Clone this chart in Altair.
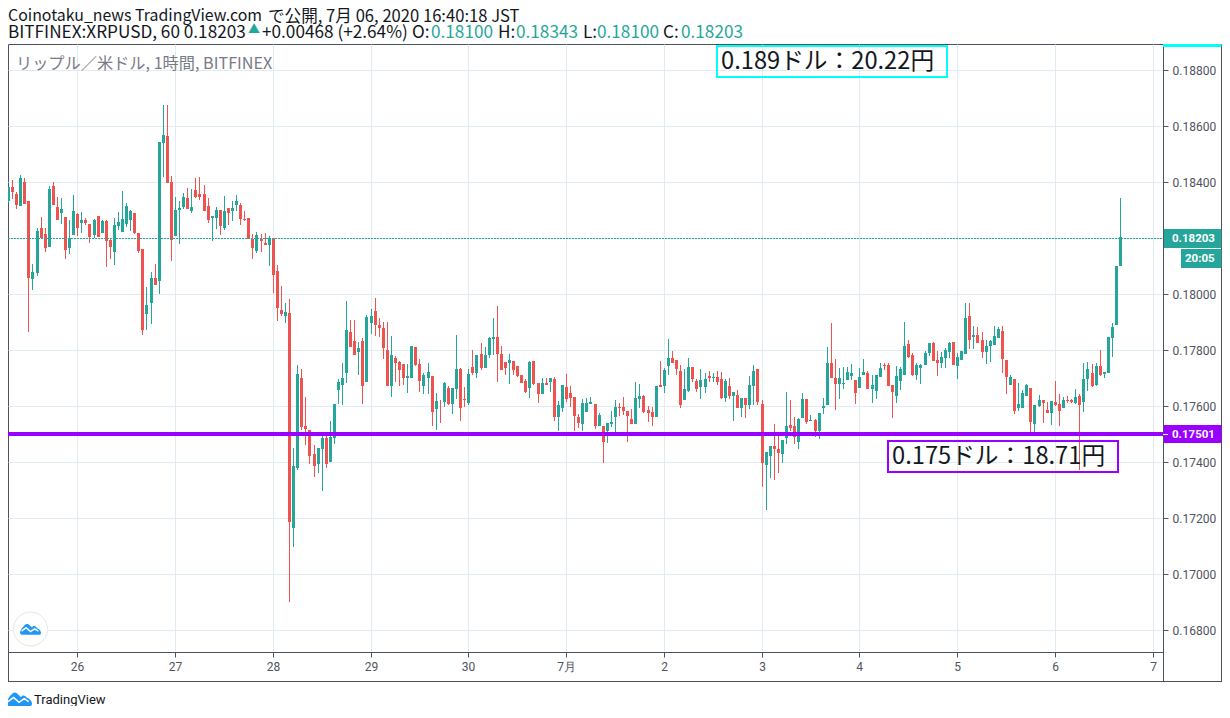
import altair as alt
import pandas as pd

# Hourly candles, Jun 25 07:00 to Jul 6 16:00 JST, prices in 1e-5 USD
opens = [
18333,18383,18358,18316,18401,18333,18055,18076,18237,18216,18169,18387,18312,18291,18276,18166,18212,18287,18255,18266,
18251,18212,18280,18219,18262,18194,18151,18244,18223,18251,18266,18291,18219,18162,17930,17969,18058,18048,18540,18565,
18401,18208,18301,18312,18344,18298,18373,18358,18358,18316,18273,18273,18301,18237,18308,18298,18319,18319,18269,18273,
18198,18155,18198,18183,18176,18201,18083,17944,17923,17933,17166,17380,17701,17530,17516,17430,17394,17448,17487,17401,
17484,17658,17676,17719,17866,17833,17794,17833,17687,17898,17940,17891,17880,17801,17673,17773,17758,17751,17701,17701,
17812,17751,17673,17701,17708,17591,17623,17616,17666,17608,17662,17733,17626,17612,17741,17719,17787,17737,17783,17841,
17848,17787,17758,17755,17762,17744,17712,17691,17666,17762,17683,17644,17683,17687,17698,17562,17594,17669,17648,17633,
17562,17537,17580,17608,17608,17530,17530,17512,17537,17562,17598,17598,17583,17555,17537,17626,17637,17587,17580,17562,
17676,17673,17744,17773,17765,17726,17623,17655,17740,17691,17669,17669,17708,17701,17705,17698,17630,17673,17637,17641,
17594,17630,17605,17673,17733,17608,17391,17423,17458,17448,17430,17487,17533,17530,17473,17558,17626,17548,17551,17512,
17594,17605,17755,17701,17680,17680,17694,17708,17694,17666,17712,17719,17662,17655,17705,17748,17748,17676,17637,17691,
17712,17823,17783,17712,17737,17748,17790,17826,17765,17755,17773,17794,17830,17744,17765,17787,17923,17848,17855,17837,
17794,17815,17819,17844,17869,17765,17676,17698,17594,17594,17637,17666,17537,17601,17623,17587,17576,17616,17608,17594,
17623,17623,17612,17637,17616,17698,17719,17676,17744,17716,17719,17844,17890,18100]
highs = [
18383,18408,18365,18426,18415,18333,18108,18237,18276,18237,18387,18401,18348,18344,18276,18266,18355,18291,18294,18273,
18251,18269,18280,18266,18266,18198,18273,18294,18369,18326,18301,18291,18219,18162,18026,18080,18108,18544,18676,18676,
18423,18348,18333,18362,18380,18376,18415,18419,18390,18344,18280,18312,18301,18351,18308,18333,18355,18326,18298,18273,
18216,18223,18216,18219,18208,18201,18105,18030,17969,17983,17451,17748,17733,17633,17516,17462,17451,17494,17494,17548,
17608,17698,17755,17976,17908,17908,17830,17844,17926,17948,17987,17916,17901,17901,17851,17780,17762,17751,17751,17816,
17812,17769,17719,17755,17708,17648,17623,17687,17673,17666,17855,17737,17669,17733,17801,17783,17826,17812,17848,17916,
17958,17816,17758,17787,17762,17744,17712,17698,17762,17762,17683,17701,17701,17701,17705,17619,17676,17716,17673,17633,
17573,17626,17630,17633,17608,17576,17530,17541,17583,17623,17612,17633,17583,17591,17687,17680,17641,17601,17598,17673,
17762,17737,17840,17798,17765,17748,17733,17773,17740,17698,17733,17719,17726,17719,17726,17723,17698,17701,17651,17658,
17630,17630,17708,17748,17733,17623,17437,17458,17537,17501,17480,17651,17623,17562,17558,17648,17626,17569,17555,17576,
17630,17812,17898,17769,17737,17740,17740,17751,17694,17737,17769,17726,17712,17712,17755,17755,17755,17676,17744,17740,
17901,17837,17790,17755,17751,17798,17826,17830,17798,17794,17808,17830,17830,17790,17798,17969,17969,17887,17883,17865,
17837,17837,17887,17883,17887,17765,17712,17698,17683,17658,17680,17666,17605,17641,17623,17616,17619,17691,17644,17633,
17637,17626,17662,17644,17755,17758,17751,17755,17801,17723,17848,17898,18101,18343]
lows = [
18326,18340,18305,18316,18323,17866,18016,18066,18198,18151,18169,18319,18266,18251,18126,18144,18212,18208,18219,18248,
18183,18201,18205,18219,18098,18126,18105,18230,18223,18241,18226,18216,18148,17855,17873,17894,18033,18001,18419,18398,
18119,18208,18180,18305,18305,18291,18344,18337,18298,18255,18191,18233,18212,18230,18248,18262,18298,18248,18262,18198,
18126,18148,18151,18176,18101,18005,17905,17923,17898,16899,17098,17373,17516,17459,17394,17348,17362,17298,17380,17401,
17466,17608,17605,17683,17812,17783,17712,17608,17687,17858,17851,17848,17769,17673,17633,17687,17673,17676,17648,17701,
17744,17651,17644,17644,17530,17516,17541,17598,17605,17573,17626,17548,17598,17605,17712,17701,17730,17737,17773,17783,
17687,17730,17712,17680,17712,17705,17683,17648,17630,17676,17612,17644,17676,17651,17548,17509,17580,17616,17598,17512,
17523,17512,17580,17608,17519,17530,17398,17469,17526,17508,17566,17569,17473,17537,17537,17594,17576,17544,17530,17562,
17669,17648,17712,17755,17712,17594,17623,17651,17687,17651,17626,17648,17687,17687,17676,17626,17616,17626,17548,17594,
17562,17558,17591,17605,17605,17309,17230,17344,17337,17359,17398,17466,17512,17466,17448,17558,17537,17548,17491,17483,
17573,17605,17701,17587,17626,17662,17694,17694,17608,17666,17712,17662,17612,17626,17705,17730,17673,17558,17612,17658,
17712,17773,17708,17694,17680,17748,17780,17762,17708,17737,17737,17773,17748,17698,17765,17787,17805,17805,17826,17773,
17751,17758,17819,17844,17719,17644,17676,17573,17583,17594,17637,17501,17508,17598,17541,17576,17533,17601,17530,17594,
17612,17612,17608,17373,17580,17655,17669,17673,17708,17701,17719,17776,17890,18100]
closes = [
18383,18365,18319,18415,18323,18058,18080,18226,18201,18166,18376,18319,18266,18305,18158,18200,18298,18237,18266,18255,
18205,18266,18205,18262,18191,18169,18248,18258,18269,18316,18298,18219,18155,17873,17962,18058,18033,18544,18569,18398,
18194,18301,18308,18348,18305,18312,18348,18348,18298,18266,18280,18301,18244,18298,18291,18308,18333,18269,18266,18198,
18166,18212,18191,18176,18201,18069,17951,17930,17934,17187,17384,17716,17526,17519,17423,17387,17451,17484,17394,17491,
17608,17687,17701,17873,17812,17783,17808,17673,17919,17923,17891,17880,17808,17673,17783,17755,17730,17701,17708,17816,
17748,17691,17712,17723,17580,17619,17621,17683,17608,17666,17733,17594,17623,17716,17719,17783,17737,17783,17844,17848,
17787,17730,17737,17766,17730,17708,17683,17651,17758,17680,17644,17683,17676,17701,17562,17605,17676,17626,17630,17566,
17541,17612,17612,17616,17530,17569,17473,17541,17544,17598,17594,17583,17566,17537,17630,17637,17580,17576,17562,17673,
17669,17730,17773,17755,17733,17605,17662,17740,17698,17662,17694,17698,17701,17705,17687,17630,17691,17637,17651,17594,
17630,17605,17676,17726,17616,17398,17437,17458,17448,17433,17480,17530,17523,17491,17555,17626,17544,17551,17512,17576,
17601,17755,17701,17680,17701,17683,17723,17719,17648,17705,17723,17662,17676,17712,17737,17744,17673,17651,17708,17733,
17815,17776,17712,17748,17748,17790,17826,17762,17755,17776,17801,17826,17748,17776,17798,17915,17837,17855,17826,17794,
17815,17833,17851,17876,17769,17705,17705,17583,17608,17648,17676,17544,17605,17623,17612,17576,17619,17605,17583,17623,
17619,17616,17633,17605,17698,17733,17673,17744,17712,17723,17848,17883,18101,18203]

first_hour = -17          # hours from Jun 26 00:00
day_labels = ["26", "27", "28", "29", "30", "7月", "2", "3", "4", "5", "6", "7"]
price_ticks = [0.168, 0.170, 0.172, 0.174, 0.176, 0.178, 0.180, 0.182, 0.184, 0.186, 0.188]
last_price = 0.18203
level_price = 0.17501

GREEN, RED = "#26a69a", "#ef5350"
PURPLE, CYAN = "#9900ff", "#00ffff"
FRAME, GRID, INK = "#4c525e", "#e1ecf2", "#131722"
JP = "Noto Sans CJK JP"

n = len(opens)
df = pd.DataFrame({
    "h": [first_hour + i for i in range(n)],
    "o": [v / 1e5 for v in opens],
    "hi": [v / 1e5 for v in highs],
    "lo": [v / 1e5 for v in lows],
    "c": [v / 1e5 for v in closes],
})
df["dir"] = ["up" if c >= o else "down" for o, c in zip(opens, closes)]

W, H = 1155, 608
xs = alt.Scale(domain=[-17, 266.55], round=True, nice=False, zero=False, padding=0)
ys = alt.Scale(domain=[0.1672143, 0.1889286], round=True, nice=False, zero=False, padding=0)
dir_color = alt.Color("dir:N", scale=alt.Scale(domain=["up", "down"], range=[GREEN, RED]), legend=None)

x_axis = alt.Axis(values=[24 * i for i in range(12)], title=None, grid=True, gridColor=GRID,
                  labelExpr="[" + ",".join(f"'{d}'" for d in day_labels) + "][datum.value/24]",
                  tickSize=5, tickColor=FRAME, domainColor=FRAME, labelColor="#50535e",
                  labelFont="Roboto", labelFontSize=12, labelPadding=4, labelFlush=False, labelOverlap=False)
y_axis = alt.Axis(values=price_ticks, format=".5f", title=None, orient="right", grid=True, gridColor=GRID,
                  tickSize=5, tickColor=FRAME, domainColor=FRAME, labelColor="#50535e",
                  labelFont="Roboto", labelFontSize=12, labelPadding=4, labelOverlap=False)

base = alt.Chart(df)
wicks = base.mark_rule(strokeWidth=1, xOffset=0.5).encode(
    x=alt.X("h:Q", scale=xs, axis=x_axis),
    y=alt.Y("lo:Q", scale=ys, axis=y_axis),
    y2="hi:Q", color=dir_color)
bodies = base.mark_bar(size=3, xOffset=0.5, orient="vertical").encode(
    x=alt.X("h:Q", scale=xs, axis=x_axis),
    y=alt.Y("o:Q", scale=ys, axis=y_axis),
    y2="c:Q", color=dir_color)

one = pd.DataFrame({"k": [0]})

def X(px):
    return alt.value(px - 8)

def Y(py):
    return alt.value(py - 44)

def label(text, px, py, color=INK, size=17.2, font=JP, **kw):
    return alt.Chart(one).mark_text(text=text, align=kw.pop("align", "left"), baseline="middle",
                                    color=color, fontSize=size, font=font, **kw).encode(x=X(px), y=Y(py))

def hline(py, x0, x1, color=FRAME, width=1):
    return alt.Chart(one).mark_rule(color=color, strokeWidth=width).encode(x=X(x0), x2=X(x1), y=Y(py))

def vline(px, y0, y1, color=FRAME, width=1):
    return alt.Chart(one).mark_rule(color=color, strokeWidth=width).encode(x=X(px), y=Y(y0), y2=Y(y1))

def box(x0, y0, x1, y1, **kw):
    return alt.Chart(one).mark_rect(**kw).encode(x=X(x0), x2=X(x1), y=Y(y0), y2=Y(y1))

def price_rule(price, color, width, **kw):
    return alt.Chart(pd.DataFrame({"p": [price]})).mark_rule(color=color, strokeWidth=width, **kw).encode(
        x=alt.value(0), x2=alt.value(W), y=alt.Y("p:Q", scale=ys, axis=y_axis))

CLOUD = ("M-1,0.3 C-0.9,0.05 -0.6,-0.45 -0.35,-0.5 C-0.15,-0.5 0,-0.25 0.15,-0.15 C0.25,-0.3 0.45,-0.35 0.6,-0.1 "
         "C0.8,-0.05 1,0.15 1,0.35 C1,0.5 0.9,0.55 0.8,0.55 L-0.7,0.55 C-0.9,0.55 -1,0.45 -1,0.3 Z")
ZIG = "M-0.85,0.2 L-0.42,-0.12 L0,0.25 L0.4,-0.02 L0.75,0.2"

def logo(px, py, half):
    size = (2 * half) ** 2
    fill = alt.Chart(one).mark_point(shape=CLOUD, size=size, filled=True, color="#2196f3", opacity=1).encode(x=X(px), y=Y(py))
    zig = alt.Chart(one).mark_point(shape=ZIG, size=size, filled=False, color="#ffffff", strokeWidth=1.5, opacity=1).encode(x=X(px), y=Y(py))
    return fill + zig

RIGHT = 1221.5

layers = [
    wicks, bodies,
    price_rule(last_price, GREEN, 1, strokeDash=[2, 1], yOffset=1.5),
    price_rule(level_price, PURPLE, 4),
    # frame
    hline(44.5, 1163, RIGHT), hline(681.5, 8, RIGHT), vline(1163.5, 652, 682), vline(RIGHT, 44, 682), vline(8.5, 652, 682),
    box(1163, 44, RIGHT, 47, color=CYAN),
    # price tags
    box(1164, 229, RIGHT, 248, color=GREEN),
    label("0.18203", 1172, 238.5, "#ffffff", 11.5, "Roboto", fontWeight="bold"),
    box(1181, 249, RIGHT, 268, color=GREEN),
    label("20:05", 1185, 258.5, "#ffffff", 11.5, "Roboto", fontWeight="bold"),
    box(1164, 425, RIGHT, 443, color=PURPLE),
    hline(434.5, 1163, 1168, "#ffffff"),
    label("0.17501", 1172, 434.5, "#ffffff", 11.5, "Roboto", fontWeight="bold"),
    # annotations
    box(717, 46, 947, 77, filled=False, stroke=CYAN, strokeWidth=2),
    label("0.189ドル：20.22円", 721, 62, INK, 23.7),
    box(888, 441, 1118, 472, filled=False, stroke=PURPLE, strokeWidth=2),
    label("0.175ドル：18.71円", 892, 457, INK, 23.7),
    # headers
    label("Coinotaku_news TradingView.com", 8, 16, INK, 15.9),
    label("で公開, 7月 06, 2020 16:40:18 JST", 268, 16.5, INK, 16.6),
    label("BITFINEX:XRPUSD, 60 0.18203", 8, 33),
    label("▲", 248, 30, GREEN, 12),
    label("+0.00468 (+2.64%)", 262, 33),
    label("O:", 412, 33), label("0.18100", 431, 33, GREEN),
    label("H:", 498, 33), label("0.18343", 516, 33, GREEN),
    label("L:", 583, 33), label("0.18100", 597, 33, GREEN),
    label("C:", 663, 33), label("0.18203", 681, 33, GREEN),
    label("リップル／米ドル, 1時間, BITFINEX", 16, 64, "#787b86", 16.2),
    # logos
    alt.Chart(one).mark_point(shape="circle", size=1156, filled=True, fill="#ffffff", stroke="#e6e6e6", strokeWidth=1, opacity=1).encode(x=X(30.5), y=Y(629)),
    logo(30.5, 629, 10.5),
    logo(19, 699, 13),
    label("TradingView", 34, 700, INK, 13, "Roboto"),
]

chart = alt.layer(*layers).properties(
    width=W, height=H,
    autosize=alt.AutoSizeParams(type="none"),
    padding={"left": 0, "top": 36, "right": 59, "bottom": 54},
    background="#ffffff",
).configure_view(stroke=FRAME)

chart.save("out.html", embed_options={"renderer": "svg", "actions": False})
